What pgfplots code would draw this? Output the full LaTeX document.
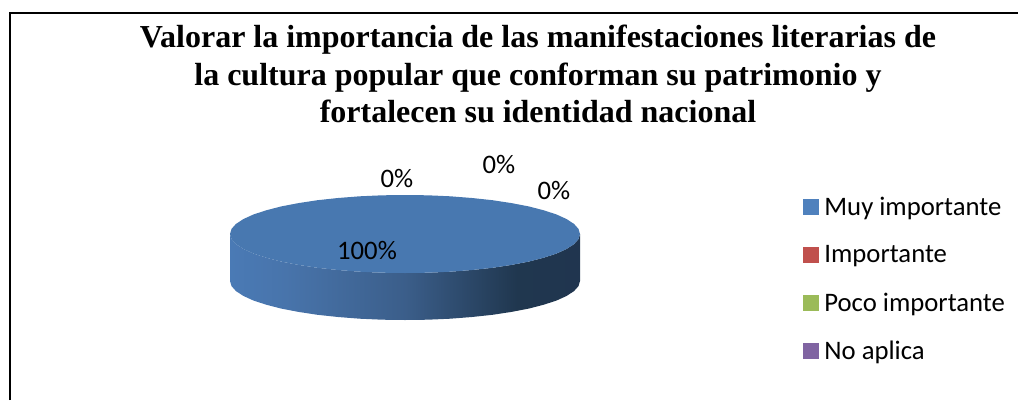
\documentclass[border=0pt]{standalone}
\usepackage{pgfplots}
\pgfplotsset{compat=1.18}
\usepackage{fontspec}
\setmainfont{Carlito}
\newfontfamily\titlefont{Liberation Serif}
\definecolor{cTop}{HTML}{4878B0}
\definecolor{cA}{HTML}{4F81BD}
\definecolor{cB}{HTML}{C0504D}
\definecolor{cC}{HTML}{9BBB59}
\definecolor{cD}{HTML}{8064A2}
\definecolor{sa}{HTML}{4A7AB5}
\definecolor{sb}{HTML}{4874AB}
\definecolor{sc}{HTML}{3B5E8A}
\definecolor{sd}{HTML}{20374F}
\definecolor{se}{HTML}{20354F}
\pgfdeclarehorizontalshading{pieside}{100bp}{
  color(0bp)=(sa);
  color(25bp)=(sa);
  color(33bp)=(sb);
  color(50bp)=(sc);
  color(66bp)=(sd);
  color(75bp)=(se);
  color(100bp)=(se)}
\pgfplotsset{sq/.style={legend image code/.code={\fill[#1] (0pt,-7.5pt) rectangle (15pt,7.5pt);}}}
\begin{document}
\begin{tikzpicture}[x=1pt,y=1pt]
\useasboundingbox (0,0) rectangle (1018,400);
\begin{axis}[
  at={(0,0)},anchor=south west,
  width=1018pt,height=400pt,scale only axis,
  xmin=0,xmax=1018,ymin=0,ymax=400,y dir=reverse,
  axis lines=none,clip=false,
  legend style={at={(axis cs:803,195)},anchor=north west,draw=none,fill=none,
    font=\fontsize{26.7}{26.7}\selectfont,
    inner sep=0pt,outer sep=0pt,
    row sep=24.6pt,
    /tikz/every odd column/.append style={column sep=4pt}},
  legend cell align=left,
]
% side wall
\addplot[draw=none,shading=pieside,forget plot] coordinates {
(580,234)(578.5,239.1)(574,244.1)(566.7,248.9)(556.6,253.5)(543.8,257.7)(528.7,261.6)(511.5,264.9)(492.5,267.8)(472,270)(450.3,271.7)(427.8,272.7)(405,273)
(382.2,272.7)(359.7,271.7)(338,270)(317.5,267.8)(298.5,264.9)(281.3,261.6)(266.2,257.7)(253.4,253.5)(243.3,248.9)(236,244.1)(231.5,239.1)(230,234)
(230,281)(231.5,286.1)(236,291.1)(243.3,295.9)(253.4,300.5)(266.2,304.7)(281.3,308.6)(298.5,311.9)(317.5,314.8)(338,317)(359.7,318.7)(382.2,319.7)(405,320)
(427.8,319.7)(450.3,318.7)(472,317)(492.5,314.8)(511.5,311.9)(528.7,308.6)(543.8,304.7)(556.6,300.5)(566.7,295.9)(574,291.1)(578.5,286.1)(580,281)(580,234)};
% top face: 100 %
\addplot[draw=none,fill=cTop,forget plot] coordinates {
(580,234)(578.5,228.9)(574,223.9)(566.7,219.1)(556.6,214.5)(543.8,210.3)(528.7,206.4)(511.5,203.1)(492.5,200.2)(472,198)(450.3,196.3)(427.8,195.3)(405,195)
(382.2,195.3)(359.7,196.3)(338,198)(317.5,200.2)(298.5,203.1)(281.3,206.4)(266.2,210.3)(253.4,214.5)(243.3,219.1)(236,223.9)(231.5,228.9)(230,234)
(231.5,239.1)(236,244.1)(243.3,248.9)(253.4,253.5)(266.2,257.7)(281.3,261.6)(298.5,264.9)(317.5,267.8)(338,270)(359.7,271.7)(382.2,272.7)(405,273)
(427.8,272.7)(450.3,271.7)(472,270)(492.5,267.8)(511.5,264.9)(528.7,261.6)(543.8,257.7)(556.6,253.5)(566.7,248.9)(574,244.1)(578.5,239.1)(580,234)};
% frame
\addplot[black,line width=2pt,forget plot] coordinates {(10,400)(10,12.5)(1018,12.5)};
\addlegendimage{sq=cA}\addlegendentry{Muy importante}
\addlegendimage{sq=cB}\addlegendentry{Importante}
\addlegendimage{sq=cC}\addlegendentry{Poco importante}
\addlegendimage{sq=cD}\addlegendentry{No aplica}
\node[anchor=base,font=\titlefont\bfseries\fontsize{32}{32}\selectfont] at (axis cs:538,47) {Valorar la importancia de las manifestaciones literarias de};
\node[anchor=base,font=\titlefont\bfseries\fontsize{32}{32}\selectfont] at (axis cs:538,85) {la cultura popular que conforman su patrimonio y};
\node[anchor=base,font=\titlefont\bfseries\fontsize{32}{32}\selectfont] at (axis cs:538,122) {fortalecen su identidad nacional};
\node[font=\fontsize{26.7}{26.7}\selectfont] at (axis cs:367,250) {100\%};
\node[font=\fontsize{26.7}{26.7}\selectfont] at (axis cs:397,178) {0\%};
\node[font=\fontsize{26.7}{26.7}\selectfont] at (axis cs:499,164) {0\%};
\node[font=\fontsize{26.7}{26.7}\selectfont] at (axis cs:554,190) {0\%};
\end{axis}
\end{tikzpicture}
\end{document}
